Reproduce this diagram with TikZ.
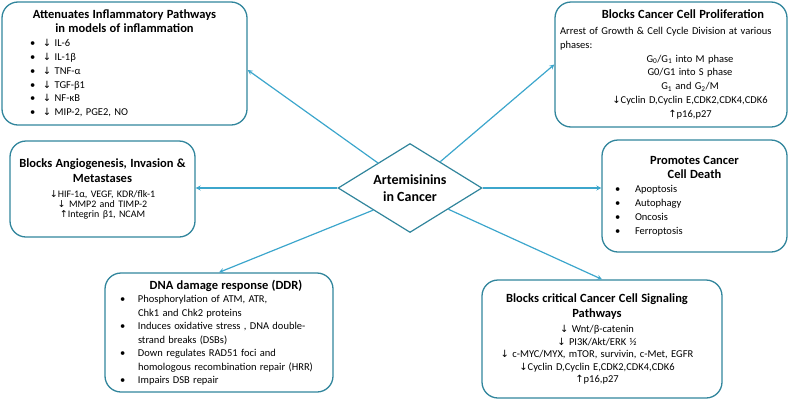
\documentclass[tikz,border=0pt]{standalone}
\usepackage{fontspec}
\setmainfont{Carlito}
\newfontfamily\arrowfont{DejaVu Sans}[Scale=0.95]
\usetikzlibrary{arrows,shapes.geometric}
\definecolor{boxline}{HTML}{31859C}
\definecolor{arrline}{HTML}{3CA6CC}
\newcommand{\ttl}{\fontsize{12.5}{14}\selectfont\bfseries}
\newcommand{\txt}{\fontsize{10.5}{13.8}\selectfont}
\newcommand{\dn}{{\arrowfont ↓}}
\newcommand{\upa}{{\arrowfont ↑}}
\newcommand{\bul}[1]{\par\hangindent=#1\hangafter=1\makebox[#1][l]{\textbullet}}

\begin{document}
\begin{tikzpicture}[x=1pt, y=-1pt,
    box/.style={draw=boxline, line width=1.3pt, rounded corners=16pt, inner xsep=5pt, inner ysep=0pt},
    conn/.style={->, >=stealth, draw=arrline, line width=1.2pt}
    ]
    \useasboundingbox (0,0) rectangle (791,402);

    %Centre
    \node[diamond, draw=boxline, line width=1.2pt, inner sep=0pt, aspect=1.6,
        minimum width=144, minimum height=89, align=center,
        font=\fontsize{14}{17}\selectfont\bfseries]
        (dia) at (410,188) {Artemisinins\\in Cancer};

    %Boxes
    \node[box, minimum width=245, minimum height=123, text width=235]
        (infl) at (124.5,63.5) {
        {\centering\ttl Attenuates Inflammatory Pathways\\in models of inflammation\par}
        \txt\raggedright\leftskip=23pt
        \bul{13pt}\dn\ IL-6
        \bul{13pt}\dn\ IL-1β
        \bul{13pt}\dn\ TNF-α
        \bul{13pt}\dn\ TGF-β1
        \bul{13pt}\dn\ NF-κB
        \bul{13pt}\dn\ MIP-2, PGE2, NO\par
    };
    \node[box, minimum width=232, minimum height=125, text width=222]
        (prolif) at (671,64.5) {
        {\centering\leftskip=24pt plus 1fil\ttl Blocks Cancer Cell Proliferation\par}
        \vspace{2pt}
        {\raggedright\txt Arrest of Growth \& Cell Cycle Division at various\\phases:\par}
        {\centering\leftskip=38pt plus 1fil\txt
        G\textsubscript{0}/G\textsubscript{1} into M phase\\
        G0/G1 into S phase\\
        G\textsubscript{1} and G\textsubscript{2}/M\\
        \dn Cyclin D,Cyclin E,CDK2,CDK4,CDK6\\
        \upa p16,p27\par}
    };
    \node[box, inner xsep=3pt, minimum width=185, minimum height=96, text width=179]
        (angio) at (102.5,189) {
        {\centering\fontsize{12.5}{14.5}\selectfont\bfseries Blocks Angiogenesis, Invasion \&\\Metastases\par}
        \vspace{5pt}
        {\centering\fontsize{10}{10}\selectfont
        \dn HIF-1α, VEGF, KDR/flk-1\\
        \dn\ MMP2 and TIMP-2\\
        \upa Integrin β1, NCAM\par}
        \vspace*{2pt}
    };
    \node[box, minimum width=185, minimum height=112, text width=175]
        (death) at (694.5,196) {
        {\centering\ttl Promotes Cancer\\Cell Death\par}
        \fontsize{10.5}{14}\selectfont\raggedright\leftskip=8pt
        \bul{20pt}Apoptosis
        \bul{20pt}Autophagy
        \bul{20pt}Oncosis
        \bul{20pt}Ferroptosis\par
        \vspace*{14pt}
    };
    \node[box, minimum width=228, minimum height=119, text width=218]
        (ddr) at (219,332.5) {
        {\centering\leftskip=14pt plus 1fil\ttl DNA damage response (DDR)\par}
        \fontsize{10.5}{13.5}\selectfont\raggedright\leftskip=10pt
        \bul{18pt}Phosphorylation of ATM, ATR,\newline Chk1 and Chk2 proteins
        \bul{18pt}Induces oxidative stress , DNA double-\newline strand breaks (DSBs)
        \bul{18pt}Down regulates RAD51 foci and\newline homologous recombination repair (HRR)
        \bul{18pt}Impairs DSB repair\par
    };
    \node[box, minimum width=240, minimum height=118, text width=230]
        (signal) at (602,339) {
        {\centering\rightskip=10pt plus 1fil\fontsize{12.5}{15}\selectfont\bfseries Blocks critical Cancer Cell Signaling\\Pathways\par}
        \vspace{2.5pt}
        {\centering\rightskip=10pt plus 1fil\fontsize{10.5}{12.5}\selectfont
        \dn\ Wnt/β-catenin\\
        \dn\ PI3K/Akt/ERK ½\\
        \dn\ c-MYC/MYX, mTOR, survivin, c-Met, EGFR\\
        \dn Cyclin D,Cyclin E,CDK2,CDK4,CDK6\\
        \upa p16,p27\par}
        \vspace*{14pt}
    };

    %Lines
    \draw[conn] (dia.142) -- (infl.-3);
    \draw[conn] (dia.41) -- (prolif.west);
    \draw[conn] (dia.west) -- (dia.west -| angio.east);
    \draw[conn] (dia.east) -- (dia.east -| death.west);
    \draw[conn] (dia.-149) -- (ddr.north);
    \draw[conn] (dia.-29) -- (signal.north);
\end{tikzpicture}
\end{document}
